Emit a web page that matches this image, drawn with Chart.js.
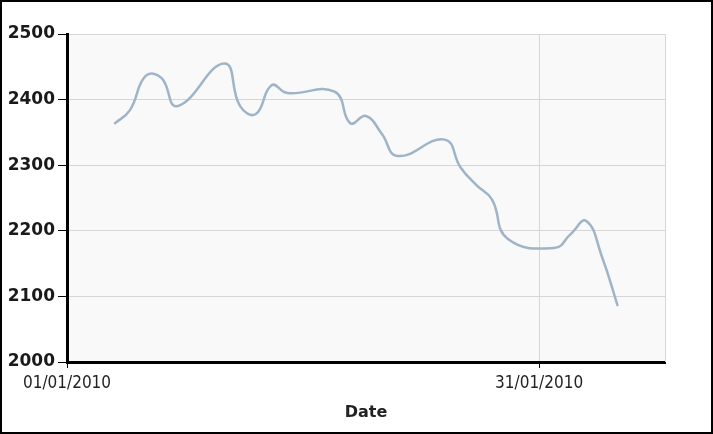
<!DOCTYPE html>
<html>
<head>
<meta charset="utf-8">
<script src="https://cdn.jsdelivr.net/npm/chart.js@4.4.1/dist/chart.umd.min.js"></script>
<style>
  html, body { margin: 0; padding: 0; background: #fff; }
  #wrap { width: 713px; height: 434px; position: relative; }
</style>
</head>
<body>
<div id="wrap"><canvas id="c" width="713" height="434"></canvas></div>
<script>
// Day offsets from 01/01/2010 (trading days)
const dayOffsets = [3, 4, 5, 6, 7, 10, 11, 12, 13, 14, 17, 18, 19, 20, 21, 24, 25, 26, 27, 28, 31, 32, 33, 34, 35];
const values = [2363, 2384, 2436, 2433, 2390, 2455, 2390, 2378, 2422, 2410, 2412, 2364, 2375, 2348, 2314, 2339, 2297, 2270, 2248, 2188, 2174, 2195, 2215, 2160, 2085];
const xTickDays = [0, 30];
const xTickLabels = ['01/01/2010', '31/01/2010'];
const yTicks = [2000, 2100, 2200, 2300, 2400, 2500];
const xTitle = 'Date';

const points = dayOffsets.map((d, i) => ({ x: d, y: values[i] }));

const bgPlugin = {
  id: 'bg',
  beforeDraw(chart) {
    const { ctx, chartArea: a } = chart;
    ctx.save();
    ctx.fillStyle = '#ffffff';
    ctx.fillRect(0, 0, chart.width, chart.height);
    ctx.fillStyle = '#f9f9f9';
    ctx.fillRect(a.left, a.top, a.right - a.left, a.bottom - a.top);
    ctx.restore();
  },
  afterDraw(chart) {
    const { ctx, chartArea: a } = chart;
    ctx.save();
    ctx.strokeStyle = '#d6d6d6';
    ctx.lineWidth = 1;
    ctx.beginPath();
    ctx.moveTo(a.right + 0.5, a.top);
    ctx.lineTo(a.right + 0.5, a.bottom);
    ctx.stroke();
    ctx.strokeStyle = '#000';
    ctx.lineWidth = 2;
    ctx.strokeRect(1, 1, chart.width - 2, chart.height - 2);
    ctx.restore();
  }
};

new Chart(document.getElementById('c'), {
  type: 'line',
  data: {
    datasets: [{
      data: points,
      borderColor: '#a0b4c8',
      borderWidth: 2.5,
      pointRadius: 0,
      tension: 0.45,
      fill: false
    }]
  },
  options: {
    responsive: false,
    animation: false,
    devicePixelRatio: 1,
    layout: { padding: { left: 0, right: 48, top: 34, bottom: 0 } },
    plugins: { legend: { display: false }, tooltip: { enabled: false } },
    scales: {
      x: {
        type: 'linear',
        min: 0,
        max: 38,
        afterBuildTicks(scale) { scale.ticks = xTickDays.map(v => ({ value: v })); },
        afterFit(scale) { scale.height = 72; },
        grid: { color: '#d6d6d6', lineWidth: 1, tickColor: '#000', tickLength: 6, drawOnChartArea: true },
        border: { color: '#000', width: 3 },
        ticks: {
          autoSkip: false,
          maxRotation: 0,
          padding: 5,
          color: '#222',
          font: { family: '"DejaVu Sans Condensed", "DejaVu Sans", sans-serif', size: 17 },
          callback(v) { const i = xTickDays.indexOf(v); return i >= 0 ? xTickLabels[i] : ''; }
        },
        title: {
          display: true,
          text: xTitle,
          color: '#222',
          font: { family: '"DejaVu Sans", sans-serif', size: 16, weight: 'bold' },
          padding: { top: 0, bottom: 12 }
        }
      },
      y: {
        type: 'linear',
        min: 2000,
        max: 2500,
        afterBuildTicks(scale) { scale.ticks = yTicks.map(v => ({ value: v })); },
        afterFit(scale) { scale.width = 67; },
        grid: { color: '#d6d6d6', lineWidth: 1, tickColor: '#000', tickLength: 9 },
        border: { color: '#000', width: 3 },
        ticks: {
          padding: 3,
          color: '#1a1a1a',
          font: { family: '"DejaVu Sans", sans-serif', size: 17, weight: 'bold' },
          callback(v) { return String(v); }
        }
      }
    }
  },
  plugins: [bgPlugin]
});
</script>
</body>
</html>
